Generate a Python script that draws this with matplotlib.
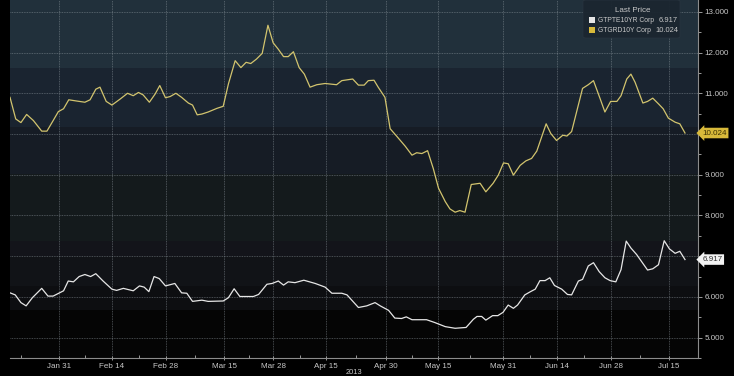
import matplotlib
matplotlib.use("Agg")
import matplotlib.pyplot as plt
from matplotlib.patches import FancyBboxPatch, Rectangle

# x is trading days from the first point of the chart (mid Jan 2013)
greek_x = [0.0, 1.1, 2.1, 3.2, 4.5, 6.1, 7.1, 8.3, 9.3, 10.3,
           11.3, 12.8, 14.4, 15.4, 16.5, 17.3, 18.5, 19.6, 21.2, 22.6,
           23.7, 24.7, 25.6, 26.8, 27.9, 28.8, 29.9, 30.8, 31.9, 33.0,
           34.3, 35.1, 36.0, 36.9, 38.1, 39.8, 41.0, 42.0, 43.3, 44.4,
           45.4, 46.3, 47.4, 48.5, 49.6, 50.6, 51.6, 52.6, 53.5, 54.5,
           55.6, 56.6, 57.7, 59.0, 60.6, 62.8, 63.8, 65.9, 67.0, 68.1,
           68.9, 70.0, 70.8, 72.1, 73.1, 74.4, 76.0, 77.3, 78.2, 79.2,
           80.3, 81.4, 82.4, 83.7, 84.6, 85.6, 86.5, 87.5, 88.7, 90.4,
           91.5, 92.9, 93.9, 94.9, 95.8, 96.8, 98.1, 99.2, 100.3, 101.3,
           103.1, 104.0, 105.1, 106.3, 107.1, 108.0, 110.1, 111.2, 112.2, 113.5,
           114.4, 115.5, 116.7, 117.5, 118.6, 119.4, 120.2, 121.7, 122.6, 123.6,
           124.7, 125.6, 126.6, 127.9, 128.8, 129.8]
greek_y = [10.90, 10.37, 10.28, 10.48, 10.33, 10.07, 10.07, 10.33, 10.55, 10.62,
           10.84, 10.81, 10.78, 10.84, 11.10, 11.15, 10.80, 10.71, 10.86, 11.00,
           10.94, 11.02, 10.96, 10.78, 10.98, 11.19, 10.89, 10.92, 11.00, 10.90,
           10.76, 10.71, 10.47, 10.49, 10.54, 10.63, 10.68, 11.23, 11.80, 11.63,
           11.76, 11.73, 11.84, 11.98, 12.67, 12.24, 12.08, 11.90, 11.90, 12.02,
           11.63, 11.47, 11.15, 11.21, 11.24, 11.21, 11.31, 11.35, 11.20, 11.20,
           11.31, 11.32, 11.15, 10.90, 10.13, 9.94, 9.70, 9.48, 9.54, 9.52,
           9.59, 9.15, 8.67, 8.34, 8.16, 8.08, 8.12, 8.08, 8.76, 8.79,
           8.58, 8.79, 8.99, 9.29, 9.27, 8.99, 9.23, 9.34, 9.40, 9.58,
           10.25, 10.01, 9.84, 9.97, 9.95, 10.06, 11.12, 11.21, 11.31, 10.86,
           10.54, 10.80, 10.80, 10.94, 11.35, 11.47, 11.27, 10.76, 10.80, 10.88,
           10.74, 10.62, 10.39, 10.29, 10.25, 10.024]

port_x = [0.0, 1.0, 2.1, 3.1, 4.3, 6.1, 7.3, 8.3, 10.3, 11.2,
          12.2, 13.3, 14.4, 15.5, 16.5, 17.9, 19.6, 20.5, 21.8, 23.7,
          24.9, 25.8, 26.7, 27.7, 28.7, 29.9, 31.7, 33.0, 34.0, 35.1,
          36.9, 38.1, 41.0, 42.0, 43.1, 44.2, 46.8, 47.8, 49.4, 50.4,
          51.6, 52.6, 53.5, 54.8, 56.5, 58.7, 60.6, 61.9, 63.8, 64.8,
          67.0, 68.6, 70.2, 71.2, 72.8, 74.0, 75.3, 76.2, 77.3, 80.1,
          81.7, 83.7, 85.6, 87.7, 89.1, 89.8, 90.7, 91.5, 92.8, 93.8,
          94.8, 95.8, 96.8, 97.6, 99.0, 100.1, 101.0, 101.9, 102.9, 103.8,
          104.7, 106.1, 107.2, 108.0, 109.3, 110.1, 111.2, 112.2, 113.3, 114.4,
          115.4, 116.5, 117.5, 118.5, 119.4, 120.5, 122.6, 123.6, 124.7, 125.8,
          126.8, 127.9, 128.8, 129.8]
port_y = [6.10, 6.05, 5.86, 5.78, 5.98, 6.21, 6.02, 6.02, 6.15, 6.39,
          6.37, 6.50, 6.55, 6.50, 6.57, 6.39, 6.19, 6.16, 6.21, 6.15,
          6.27, 6.24, 6.13, 6.50, 6.45, 6.27, 6.33, 6.10, 6.09, 5.89,
          5.92, 5.89, 5.90, 5.98, 6.20, 6.01, 6.01, 6.06, 6.31, 6.33,
          6.39, 6.29, 6.37, 6.35, 6.41, 6.33, 6.24, 6.09, 6.09, 6.05,
          5.74, 5.78, 5.86, 5.78, 5.67, 5.48, 5.47, 5.51, 5.44, 5.44,
          5.37, 5.27, 5.23, 5.25, 5.45, 5.52, 5.52, 5.43, 5.54, 5.54,
          5.62, 5.80, 5.72, 5.80, 6.05, 6.13, 6.19, 6.40, 6.40, 6.47,
          6.28, 6.19, 6.06, 6.05, 6.39, 6.43, 6.76, 6.84, 6.62, 6.47,
          6.40, 6.37, 6.67, 7.37, 7.20, 7.04, 6.66, 6.69, 6.79, 7.38,
          7.18, 7.07, 7.12, 6.917]

tick_pos = [9.4, 19.6, 30.0, 41.2, 50.6, 60.8, 72.3, 82.3, 94.8, 105.2, 115.6, 126.7]
tick_labels = ["Jan 31", "Feb 14", "Feb 28", "Mar 15", "Mar 28", "Apr 15",
               "Apr 30", "May 15", "May 31", "Jun 14", "Jun 28", "Jul 15"]
y_ticks = [5, 6, 7, 8, 9, 10, 11, 12, 13]
y_labels = ["5.000", "6.000", "", "8.000", "9.000", "", "11.000", "12.000", "13.000"]

names = ["GTPTE10YR Corp", "GTGRD10Y Corp"]
last = ["6.917", "10.024"]

GOLD = "#d2c46e"
WHITE = "#e6e6e6"
TXT = "#c8c8c8"
plt.rcParams["font.family"] = ["Liberation Sans", "DejaVu Sans"]
FS = 5.4

fig = plt.figure(figsize=(7.34, 3.76), dpi=100, facecolor="black")
ax = fig.add_axes([10 / 734, 18 / 376, 688 / 734, 358 / 376])
ax.set_facecolor("#050505")

# gradient-ish background bands (value ranges)
bands = [(11.62, 13.4, "#21303b"), (10.18, 11.62, "#1a2430"),
         (9.03, 10.18, "#161c25"), (7.37, 9.03, "#141a1c"),
         (7.0, 7.37, "#13141a"), (6.27, 7.0, "#111317"),
         (5.69, 6.27, "#0d0e11")]
for lo, hi, c in bands:
    ax.axhspan(lo, hi, color=c, lw=0, zorder=0)

ax.set_xlim(0, 132.3)
ax.set_ylim(4.57, 13.29)

for t in tick_pos:
    ax.axvline(t, color="#9aa4ab", lw=0.6, ls=(0, (1, 1)), alpha=0.55, zorder=1)
for v in y_ticks:
    ax.axhline(v, color="#9aa4ab", lw=0.6, ls=(0, (1, 1)), alpha=0.55, zorder=1)

ax.plot(greek_x, greek_y, color=GOLD, lw=0.9, zorder=3)
ax.plot(port_x, port_y, color=WHITE, lw=0.9, zorder=3)

ax.yaxis.tick_right()
ax.set_yticks(y_ticks)
ax.set_yticklabels(y_labels)
ax.set_yticks([v + 0.5 for v in range(4, 13)], minor=True)
ax.set_xticks(tick_pos)
ax.set_xticklabels(tick_labels)
mids = [2.1] + [(a + b) / 2 for a, b in zip(tick_pos[:-1], tick_pos[1:])]
ax.set_xticks(mids, minor=True)
ax.tick_params(axis="both", which="both", colors="#9a9a9a", labelcolor=TXT,
               labelsize=FS + 0.4, width=0.7)
ax.tick_params(axis="y", which="major", length=3, pad=1.5)
ax.tick_params(axis="y", which="minor", length=2)
ax.tick_params(axis="x", which="major", length=3, pad=2, direction="inout")
ax.tick_params(axis="x", which="minor", length=2, direction="in")
for s in ["left", "top"]:
    ax.spines[s].set_visible(False)
for s in ["right", "bottom"]:
    ax.spines[s].set_color("#8c8c8c")
    ax.spines[s].set_linewidth(0.8)

# last value tags on the right axis
ax.annotate(last[1], xy=(1, float(last[1])), xycoords=("axes fraction", "data"),
            xytext=(3, 0), textcoords="offset points", va="center", ha="left",
            fontsize=FS + 0.4, color="#3a3000",
            bbox=dict(boxstyle="larrow,pad=0.22", fc="#d8b93a", ec="none"))
ax.annotate(last[0], xy=(1, float(last[0])), xycoords=("axes fraction", "data"),
            xytext=(3, 0), textcoords="offset points", va="center", ha="left",
            fontsize=FS + 0.4, color="#303030",
            bbox=dict(boxstyle="larrow,pad=0.22", fc="#f2f2f2", ec="none"))

# legend box
W, H = 734, 376
fig.patches.append(FancyBboxPatch((583 / W, 1 - 38 / H), 97 / W, 38 / H,
                                  boxstyle="round,pad=0,rounding_size=0.004",
                                  transform=fig.transFigure, fc="#1b2630",
                                  ec="#2a3540", lw=0.5, alpha=0.95, zorder=5))
fig.text(633 / W, 1 - 11 / H, "Last Price", ha="center", va="center",
         fontsize=FS + 0.4, color=TXT, zorder=6)
for i, (nm, val, col) in enumerate(zip(names, last, [WHITE, "#d8b93a"])):
    yy = 1 - (20 + 10 * i) / H
    fig.patches.append(Rectangle((589 / W, yy - 3 / H), 6 / W, 6 / H,
                                 transform=fig.transFigure, fc=col, ec="none", zorder=6))
    fig.text(598 / W, yy, nm, ha="left", va="center", fontsize=4.9, color=TXT, zorder=6)
    fig.text(678 / W, yy, val, ha="right", va="center", fontsize=FS, color=TXT, zorder=6)

fig.text(354 / W, 1 - 373 / H, "2013", ha="center", va="center", fontsize=FS, color=TXT)

fig.savefig("out.png", dpi=100, facecolor="black")
